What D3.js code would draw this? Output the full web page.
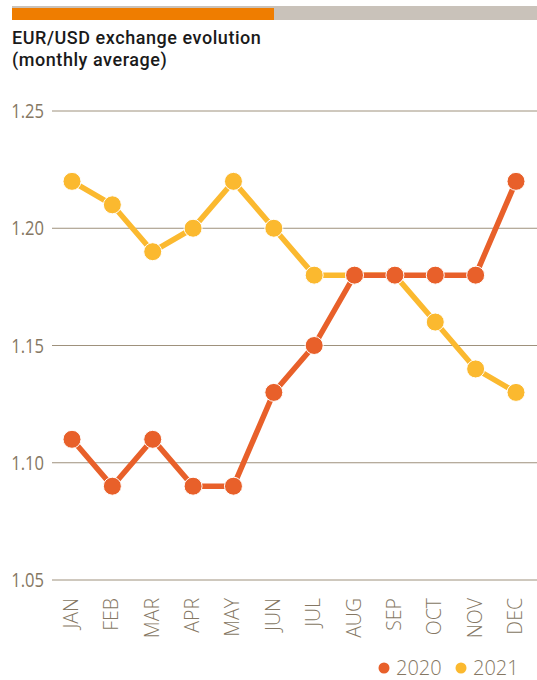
<!DOCTYPE html>
<html>
<head>
<meta charset="utf-8">
<script src="https://cdn.jsdelivr.net/npm/d3@7"></script>
<style>
  body { margin: 0; background: #fff; }
</style>
</head>
<body>
<div id="chart"></div>
<script>
// data
const months = ["JAN", "FEB", "MAR", "APR", "MAY", "JUN", "JUL", "AUG", "SEP", "OCT", "NOV", "DEC"];
const values2020 = [1.11, 1.09, 1.11, 1.09, 1.09, 1.13, 1.15, 1.18, 1.18, 1.18, 1.18, 1.22];
const values2021 = [1.22, 1.21, 1.19, 1.20, 1.22, 1.20, 1.18, 1.18, 1.18, 1.16, 1.14, 1.13];
const yTicks = [1.05, 1.10, 1.15, 1.20, 1.25];
const seriesNames = ["2020", "2021"];

const width = 537, height = 680;
const colors = { "2020": "#e8602a", "2021": "#fbb92f" };
const labelColor = "#857763";
const gridColor = "#9e917c";
const labelFont = "'Open Sans', sans-serif";

const svg = d3.select("#chart").append("svg")
    .attr("width", width)
    .attr("height", height)
    .attr("viewBox", `0 0 ${width} ${height}`);

// top progress bar
svg.append("rect").attr("x", 12).attr("y", 6).attr("width", width - 12).attr("height", 14).attr("fill", "#c9c2ba");
svg.append("rect").attr("x", 12).attr("y", 8).attr("width", 262).attr("height", 12).attr("fill", "#ef7d00");

// title
const title = svg.append("text")
    .attr("font-family", "Roboto, sans-serif")
    .attr("font-weight", 500)
    .attr("font-size", 18)
    .attr("letter-spacing", 0.55)
    .attr("fill", "#1a1a1a");
title.append("tspan").attr("x", 12).attr("y", 44).text("EUR/USD exchange evolution");
title.append("tspan").attr("x", 12).attr("y", 66).text("(monthly average)");

// scales
const x = d3.scalePoint().domain(months).range([72, 516]);
const y = d3.scaleLinear().domain([1.05, 1.25]).range([580, 111]);

// grid + y labels (digits in the reference are narrower than Open Sans)
const grid = svg.append("g");
yTicks.forEach(t => {
    grid.append("line")
        .attr("x1", 52).attr("x2", width)
        .attr("y1", y(t)).attr("y2", y(t))
        .attr("stroke", gridColor).attr("stroke-width", 1);
    grid.append("text")
        .attr("transform", `translate(44, ${y(t)}) scale(0.85, 1)`)
        .attr("dy", "0.36em")
        .attr("text-anchor", "end")
        .attr("font-family", labelFont)
        .attr("font-size", 19.5)
        .attr("fill", labelColor)
        .text(t.toFixed(2));
});

// x labels, rotated
months.forEach(m => {
    svg.append("text")
        .attr("transform", `translate(${x(m) + 6}, 598) rotate(-90)`)
        .attr("text-anchor", "end")
        .attr("font-family", labelFont)
        .attr("font-weight", 300)
        .attr("font-size", 19.5)
        .attr("fill", labelColor)
        .text(m);
});

// lines and markers, 2021 under 2020
const line = d3.line().x((d, i) => x(months[i])).y(d => y(d));
[["2021", values2021], ["2020", values2020]].forEach(([name, vals]) => {
    const g = svg.append("g");
    g.append("path")
        .attr("d", line(vals))
        .attr("fill", "none")
        .attr("stroke", colors[name])
        .attr("stroke-width", 5.5);
    g.selectAll("circle").data(vals).join("circle")
        .attr("cx", (d, i) => x(months[i]))
        .attr("cy", d => y(d))
        .attr("r", 9)
        .attr("fill", colors[name])
        .attr("stroke", "#fff")
        .attr("stroke-width", 1);
});

// legend
const legend = svg.append("g");
const legendX = [384, 461];
seriesNames.forEach((name, i) => {
    legend.append("circle")
        .attr("cx", legendX[i]).attr("cy", 668)
        .attr("r", 5.5)
        .attr("fill", colors[name]);
    legend.append("text")
        .attr("x", legendX[i] + 12).attr("y", 668)
        .attr("dy", "0.36em")
        .attr("font-family", labelFont)
        .attr("font-weight", 300)
        .attr("font-size", 20)
        .attr("fill", labelColor)
        .text(name);
});
</script>
</body>
</html>
